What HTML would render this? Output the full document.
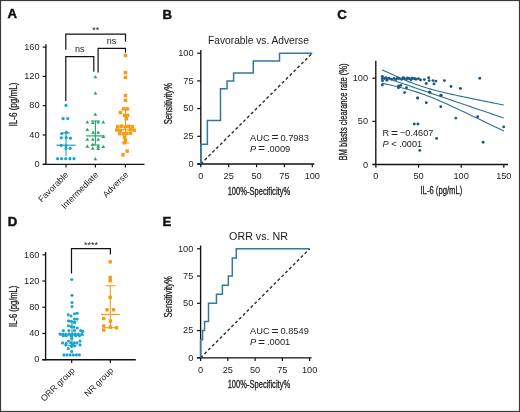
<!DOCTYPE html>
<html><head><meta charset="utf-8"><title>Figure</title>
<style>
html,body{margin:0;padding:0;background:#fff;}
body{width:520px;height:412px;overflow:hidden;}
svg{display:block;font-family:"Liberation Sans", sans-serif;filter:blur(0.3px);}
</style></head>
<body>
<svg width="520" height="412" viewBox="0 0 520 412">
<rect x="0" y="0" width="520" height="412" fill="#fff"/>
<text x="7.5" y="18.0" font-size="13.2" text-anchor="start" font-weight="bold" fill="#111" stroke="#111" stroke-width="0.45" style="">A</text>
<text x="162.4" y="19.4" font-size="13.2" text-anchor="start" font-weight="bold" fill="#111" stroke="#111" stroke-width="0.45" style="">B</text>
<text x="337.2" y="18.9" font-size="13.2" text-anchor="start" font-weight="bold" fill="#111" stroke="#111" stroke-width="0.45" style="">C</text>
<text x="7.7" y="226.2" font-size="13.2" text-anchor="start" font-weight="bold" fill="#111" stroke="#111" stroke-width="0.45" style="">D</text>
<text x="162.6" y="226.0" font-size="13.2" text-anchor="start" font-weight="bold" fill="#111" stroke="#111" stroke-width="0.45" style="">E</text>
<line x1="45.9" y1="44.30000000000001" x2="45.9" y2="164.9" stroke="#111111" stroke-width="1.35" />
<line x1="42.699999999999996" y1="164.3" x2="144.5" y2="164.3" stroke="#111111" stroke-width="1.35" />
<line x1="42.699999999999996" y1="164.3" x2="45.9" y2="164.3" stroke="#111111" stroke-width="1.2" />
<text x="39.6" y="167.0" font-size="9.2" text-anchor="end" font-weight="normal" fill="#222"  style="">0</text>
<line x1="42.699999999999996" y1="135.0" x2="45.9" y2="135.0" stroke="#111111" stroke-width="1.2" />
<text x="39.6" y="137.7" font-size="9.2" text-anchor="end" font-weight="normal" fill="#222"  style="">40</text>
<line x1="42.699999999999996" y1="105.70000000000002" x2="45.9" y2="105.70000000000002" stroke="#111111" stroke-width="1.2" />
<text x="39.6" y="108.40000000000002" font-size="9.2" text-anchor="end" font-weight="normal" fill="#222"  style="">80</text>
<line x1="42.699999999999996" y1="76.4" x2="45.9" y2="76.4" stroke="#111111" stroke-width="1.2" />
<text x="39.6" y="79.10000000000001" font-size="9.2" text-anchor="end" font-weight="normal" fill="#222"  style="">120</text>
<line x1="42.699999999999996" y1="47.10000000000001" x2="45.9" y2="47.10000000000001" stroke="#111111" stroke-width="1.2" />
<text x="39.6" y="49.80000000000001" font-size="9.2" text-anchor="end" font-weight="normal" fill="#222"  style="">160</text>
<line x1="66.0" y1="164.3" x2="66.0" y2="167.5" stroke="#111111" stroke-width="1.2" />
<line x1="95.4" y1="164.3" x2="95.4" y2="167.5" stroke="#111111" stroke-width="1.2" />
<line x1="125.4" y1="164.3" x2="125.4" y2="167.5" stroke="#111111" stroke-width="1.2" />
<text transform="translate(13.4,104.5) rotate(-90) scale(0.81,1)" x="0" y="3.60" font-size="10.0" text-anchor="middle" font-weight="normal" fill="#222" stroke="#222" stroke-width="0.3">IL-6 (pg/mL)</text>
<text transform="translate(69.0,175.4) rotate(-45)" x="0" y="0" font-size="8.7" text-anchor="end" fill="#222">Favorable</text>
<text transform="translate(98.8,175.4) rotate(-45)" x="0" y="0" font-size="8.7" text-anchor="end" fill="#222">Intermediate</text>
<text transform="translate(128.8,175.4) rotate(-45)" x="0" y="0" font-size="8.7" text-anchor="end" fill="#222">Adverse</text>
<path d="M65.8,49.8 V34.1 H125.5 V41.8" fill="none" stroke="#111111" stroke-width="1.2" />
<path d="M65.8,101 V56.7 H93.8 V71.7" fill="none" stroke="#111111" stroke-width="1.2" />
<path d="M98.1,72.4 V48.4 H125.5 V52.7" fill="none" stroke="#111111" stroke-width="1.2" />
<text x="95.8" y="32.7" font-size="9" text-anchor="middle" font-weight="normal" fill="#222"  style="">**</text>
<text x="79.7" y="52.4" font-size="9" text-anchor="middle" font-weight="normal" fill="#222"  style="">ns</text>
<text x="111.5" y="44.0" font-size="9" text-anchor="middle" font-weight="normal" fill="#222"  style="">ns</text>
<line x1="66" y1="133" x2="66" y2="156" stroke="#1ba3cc" stroke-width="1.1" />
<line x1="62" y1="133" x2="70" y2="133" stroke="#1ba3cc" stroke-width="1.1" />
<line x1="56.4" y1="145.2" x2="75.7" y2="145.2" stroke="#1ba3cc" stroke-width="1.2" />
<circle cx="66.0" cy="105.4" r="1.6" fill="#1ba3cc"/>
<circle cx="63.1" cy="118.6" r="1.6" fill="#1ba3cc"/>
<circle cx="67.8" cy="118.6" r="1.6" fill="#1ba3cc"/>
<circle cx="61.8" cy="133.6" r="1.6" fill="#1ba3cc"/>
<circle cx="66.3" cy="132.4" r="1.6" fill="#1ba3cc"/>
<circle cx="61.3" cy="137.8" r="1.6" fill="#1ba3cc"/>
<circle cx="66.2" cy="137.6" r="1.6" fill="#1ba3cc"/>
<circle cx="70.4" cy="138.2" r="1.6" fill="#1ba3cc"/>
<circle cx="61.3" cy="145.4" r="1.6" fill="#1ba3cc"/>
<circle cx="66.0" cy="145.8" r="1.6" fill="#1ba3cc"/>
<circle cx="66.0" cy="148.6" r="1.6" fill="#1ba3cc"/>
<circle cx="70.2" cy="148.3" r="1.6" fill="#1ba3cc"/>
<circle cx="57.6" cy="158.7" r="1.6" fill="#1ba3cc"/>
<circle cx="61.6" cy="158.7" r="1.6" fill="#1ba3cc"/>
<circle cx="65.7" cy="158.7" r="1.6" fill="#1ba3cc"/>
<circle cx="69.9" cy="158.7" r="1.6" fill="#1ba3cc"/>
<circle cx="74.0" cy="158.7" r="1.6" fill="#1ba3cc"/>
<line x1="95.4" y1="121" x2="95.4" y2="145" stroke="#2aa565" stroke-width="1.1" />
<line x1="90.9" y1="121" x2="99.8" y2="121" stroke="#2aa565" stroke-width="1.1" />
<line x1="90.9" y1="145" x2="99.8" y2="145" stroke="#2aa565" stroke-width="1.1" />
<line x1="86.1" y1="135.9" x2="104.7" y2="135.9" stroke="#2aa565" stroke-width="1.2" />
<path d="M93.50,78.25L95.40,74.95L97.30,78.25Z" fill="#2aa565"/>
<path d="M93.50,94.45L95.40,91.15L97.30,94.45Z" fill="#2aa565"/>
<path d="M93.40,115.75L95.30,112.45L97.20,115.75Z" fill="#2aa565"/>
<path d="M85.40,123.55L87.30,120.25L89.20,123.55Z" fill="#2aa565"/>
<path d="M90.90,124.05L92.80,120.75L94.70,124.05Z" fill="#2aa565"/>
<path d="M96.30,123.55L98.20,120.25L100.10,123.55Z" fill="#2aa565"/>
<path d="M101.40,123.55L103.30,120.25L105.20,123.55Z" fill="#2aa565"/>
<path d="M85.40,130.95L87.30,127.65L89.20,130.95Z" fill="#2aa565"/>
<path d="M91.20,133.75L93.10,130.45L95.00,133.75Z" fill="#2aa565"/>
<path d="M96.30,133.75L98.20,130.45L100.10,133.75Z" fill="#2aa565"/>
<path d="M101.40,138.05L103.30,134.75L105.20,138.05Z" fill="#2aa565"/>
<path d="M85.40,140.75L87.30,137.45L89.20,140.75Z" fill="#2aa565"/>
<path d="M90.90,140.75L92.80,137.45L94.70,140.75Z" fill="#2aa565"/>
<path d="M96.30,140.75L98.20,137.45L100.10,140.75Z" fill="#2aa565"/>
<path d="M90.90,145.85L92.80,142.55L94.70,145.85Z" fill="#2aa565"/>
<path d="M85.40,147.65L87.30,144.35L89.20,147.65Z" fill="#2aa565"/>
<path d="M96.30,147.65L98.20,144.35L100.10,147.65Z" fill="#2aa565"/>
<path d="M101.40,148.05L103.30,144.75L105.20,148.05Z" fill="#2aa565"/>
<path d="M90.90,149.85L92.80,146.55L94.70,149.85Z" fill="#2aa565"/>
<path d="M96.30,150.05L98.20,146.75L100.10,150.05Z" fill="#2aa565"/>
<path d="M93.40,160.35L95.30,157.05L97.20,160.35Z" fill="#2aa565"/>
<line x1="125.5" y1="109" x2="125.5" y2="143" stroke="#f39c16" stroke-width="1.1" />
<line x1="121.5" y1="109" x2="129.5" y2="109" stroke="#f39c16" stroke-width="1.1" />
<line x1="121.5" y1="143" x2="129.5" y2="143" stroke="#f39c16" stroke-width="1.1" />
<line x1="115.5" y1="129.8" x2="135.5" y2="129.8" stroke="#f39c16" stroke-width="1.2" />
<rect x="123.75" y="53.75" width="3.5" height="3.5" fill="#f39c16"/>
<rect x="123.75" y="70.85" width="3.5" height="3.5" fill="#f39c16"/>
<rect x="123.75" y="75.55" width="3.5" height="3.5" fill="#f39c16"/>
<rect x="123.75" y="93.85" width="3.5" height="3.5" fill="#f39c16"/>
<rect x="123.75" y="98.55" width="3.5" height="3.5" fill="#f39c16"/>
<rect x="121.85" y="107.15" width="3.5" height="3.5" fill="#f39c16"/>
<rect x="125.45" y="107.15" width="3.5" height="3.5" fill="#f39c16"/>
<rect x="118.65" y="110.75" width="3.5" height="3.5" fill="#f39c16"/>
<rect x="122.85" y="113.65" width="3.5" height="3.5" fill="#f39c16"/>
<rect x="125.85" y="113.65" width="3.5" height="3.5" fill="#f39c16"/>
<rect x="124.55" y="116.85" width="3.5" height="3.5" fill="#f39c16"/>
<rect x="116.05" y="124.85" width="3.5" height="3.5" fill="#f39c16"/>
<rect x="119.75" y="124.45" width="3.5" height="3.5" fill="#f39c16"/>
<rect x="123.45" y="125.05" width="3.5" height="3.5" fill="#f39c16"/>
<rect x="127.05" y="124.55" width="3.5" height="3.5" fill="#f39c16"/>
<rect x="130.65" y="125.05" width="3.5" height="3.5" fill="#f39c16"/>
<rect x="115.05" y="128.25" width="3.5" height="3.5" fill="#f39c16"/>
<rect x="118.45" y="128.65" width="3.5" height="3.5" fill="#f39c16"/>
<rect x="128.85" y="128.05" width="3.5" height="3.5" fill="#f39c16"/>
<rect x="132.45" y="128.45" width="3.5" height="3.5" fill="#f39c16"/>
<rect x="117.85" y="131.85" width="3.5" height="3.5" fill="#f39c16"/>
<rect x="121.45" y="132.05" width="3.5" height="3.5" fill="#f39c16"/>
<rect x="125.05" y="131.65" width="3.5" height="3.5" fill="#f39c16"/>
<rect x="128.65" y="131.45" width="3.5" height="3.5" fill="#f39c16"/>
<rect x="122.75" y="135.45" width="3.5" height="3.5" fill="#f39c16"/>
<rect x="123.75" y="138.45" width="3.5" height="3.5" fill="#f39c16"/>
<rect x="122.75" y="141.05" width="3.5" height="3.5" fill="#f39c16"/>
<rect x="125.45" y="149.35" width="3.5" height="3.5" fill="#f39c16"/>
<rect x="121.25" y="153.05" width="3.5" height="3.5" fill="#f39c16"/>
<line x1="200.8" y1="49.900000000000006" x2="200.8" y2="164.6" stroke="#111111" stroke-width="1.35" />
<line x1="197.20000000000002" y1="164.0" x2="314.3" y2="164.0" stroke="#111111" stroke-width="1.35" />
<line x1="197.20000000000002" y1="164.0" x2="200.8" y2="164.0" stroke="#111111" stroke-width="1.2" />
<text x="193.5" y="166.8" font-size="9.2" text-anchor="end" font-weight="normal" fill="#222"  style="">0</text>
<line x1="200.8" y1="164.0" x2="200.8" y2="167.2" stroke="#111111" stroke-width="1.2" />
<text x="200.8" y="179.2" font-size="9.2" text-anchor="middle" font-weight="normal" fill="#222"  style="">0</text>
<line x1="197.20000000000002" y1="136.3" x2="200.8" y2="136.3" stroke="#111111" stroke-width="1.2" />
<text x="193.5" y="139.10000000000002" font-size="9.2" text-anchor="end" font-weight="normal" fill="#222"  style="">25</text>
<line x1="228.675" y1="164.0" x2="228.675" y2="167.2" stroke="#111111" stroke-width="1.2" />
<text x="228.675" y="179.2" font-size="9.2" text-anchor="middle" font-weight="normal" fill="#222"  style="">25</text>
<line x1="197.20000000000002" y1="108.6" x2="200.8" y2="108.6" stroke="#111111" stroke-width="1.2" />
<text x="193.5" y="111.39999999999999" font-size="9.2" text-anchor="end" font-weight="normal" fill="#222"  style="">50</text>
<line x1="256.55" y1="164.0" x2="256.55" y2="167.2" stroke="#111111" stroke-width="1.2" />
<text x="256.55" y="179.2" font-size="9.2" text-anchor="middle" font-weight="normal" fill="#222"  style="">50</text>
<line x1="197.20000000000002" y1="80.9" x2="200.8" y2="80.9" stroke="#111111" stroke-width="1.2" />
<text x="193.5" y="83.7" font-size="9.2" text-anchor="end" font-weight="normal" fill="#222"  style="">75</text>
<line x1="284.425" y1="164.0" x2="284.425" y2="167.2" stroke="#111111" stroke-width="1.2" />
<text x="284.425" y="179.2" font-size="9.2" text-anchor="middle" font-weight="normal" fill="#222"  style="">75</text>
<line x1="197.20000000000002" y1="53.2" x2="200.8" y2="53.2" stroke="#111111" stroke-width="1.2" />
<text x="193.5" y="56.0" font-size="9.2" text-anchor="end" font-weight="normal" fill="#222"  style="">100</text>
<line x1="312.3" y1="164.0" x2="312.3" y2="167.2" stroke="#111111" stroke-width="1.2" />
<text x="312.3" y="179.2" font-size="9.2" text-anchor="middle" font-weight="normal" fill="#222"  style="">100</text>
<line x1="200.8" y1="164.0" x2="312.3" y2="53.2" stroke="#2a2a2a" stroke-width="1.4" stroke-dasharray="3,2.45"/>
<path d="M200.80,164.00 L200.80,144.21 L207.36,144.21 L207.36,120.47 L220.48,120.47 L220.48,88.81 L227.04,88.81 L227.04,80.90 L233.59,80.90 L233.59,72.99 L253.27,72.99 L253.27,61.11 L279.51,61.11 L279.51,53.20 L312.30,53.20" fill="none" stroke="#327a9e" stroke-width="1.5" stroke-linejoin="miter"/>
<text x="258.5" y="43.6" font-size="10.2" text-anchor="middle" font-weight="normal" fill="#1a1a1a"  style="">Favorable vs. Adverse</text>
<text x="250.0" y="140.7" font-size="9.3" text-anchor="start" font-weight="normal" fill="#222"  style="">AUC <tspan font-size="12" dy="0.4">=</tspan><tspan dy="-0.4"> </tspan>0.7983</text>
<text x="250.0" y="151.6" font-size="9.3" text-anchor="start" font-weight="normal" fill="#222"  style=""><tspan font-style="italic">P</tspan> <tspan font-size="12" dy="0.4">=</tspan><tspan dy="-0.4"> </tspan>.0009</text>
<text transform="translate(258.9,190.9) rotate(0) scale(0.755,1)" x="0" y="3.60" font-size="10.0" text-anchor="middle" font-weight="normal" fill="#222" stroke="#222" stroke-width="0.3">100%-Specificity%</text>
<text transform="translate(168.8,103.6) rotate(-90) scale(0.77,1)" x="0" y="3.60" font-size="10.0" text-anchor="middle" font-weight="normal" fill="#222" stroke="#222" stroke-width="0.3">Sensitivity%</text>
<line x1="200.6" y1="245.5" x2="200.6" y2="358.40000000000003" stroke="#111111" stroke-width="1.35" />
<line x1="197.0" y1="357.8" x2="311.6" y2="357.8" stroke="#111111" stroke-width="1.35" />
<line x1="197.0" y1="357.8" x2="200.6" y2="357.8" stroke="#111111" stroke-width="1.2" />
<text x="193.29999999999998" y="360.6" font-size="9.2" text-anchor="end" font-weight="normal" fill="#222"  style="">0</text>
<line x1="200.6" y1="357.8" x2="200.6" y2="361.0" stroke="#111111" stroke-width="1.2" />
<text x="200.6" y="372.8" font-size="9.2" text-anchor="middle" font-weight="normal" fill="#222"  style="">0</text>
<line x1="197.0" y1="330.55" x2="200.6" y2="330.55" stroke="#111111" stroke-width="1.2" />
<text x="193.29999999999998" y="333.35" font-size="9.2" text-anchor="end" font-weight="normal" fill="#222"  style="">25</text>
<line x1="227.85" y1="357.8" x2="227.85" y2="361.0" stroke="#111111" stroke-width="1.2" />
<text x="227.85" y="372.8" font-size="9.2" text-anchor="middle" font-weight="normal" fill="#222"  style="">25</text>
<line x1="197.0" y1="303.3" x2="200.6" y2="303.3" stroke="#111111" stroke-width="1.2" />
<text x="193.29999999999998" y="306.1" font-size="9.2" text-anchor="end" font-weight="normal" fill="#222"  style="">50</text>
<line x1="255.10000000000002" y1="357.8" x2="255.10000000000002" y2="361.0" stroke="#111111" stroke-width="1.2" />
<text x="255.10000000000002" y="372.8" font-size="9.2" text-anchor="middle" font-weight="normal" fill="#222"  style="">50</text>
<line x1="197.0" y1="276.05" x2="200.6" y2="276.05" stroke="#111111" stroke-width="1.2" />
<text x="193.29999999999998" y="278.85" font-size="9.2" text-anchor="end" font-weight="normal" fill="#222"  style="">75</text>
<line x1="282.35" y1="357.8" x2="282.35" y2="361.0" stroke="#111111" stroke-width="1.2" />
<text x="282.35" y="372.8" font-size="9.2" text-anchor="middle" font-weight="normal" fill="#222"  style="">75</text>
<line x1="197.0" y1="248.8" x2="200.6" y2="248.8" stroke="#111111" stroke-width="1.2" />
<text x="193.29999999999998" y="251.60000000000002" font-size="9.2" text-anchor="end" font-weight="normal" fill="#222"  style="">100</text>
<line x1="309.6" y1="357.8" x2="309.6" y2="361.0" stroke="#111111" stroke-width="1.2" />
<text x="309.6" y="372.8" font-size="9.2" text-anchor="middle" font-weight="normal" fill="#222"  style="">100</text>
<line x1="200.6" y1="357.8" x2="309.6" y2="248.8" stroke="#2a2a2a" stroke-width="1.4" stroke-dasharray="3,2.45"/>
<path d="M200.60,357.80 L200.60,339.63 L202.58,339.63 L202.58,330.55 L204.57,330.55 L204.57,321.47 L208.52,321.47 L208.52,303.30 L216.46,303.30 L216.46,294.22 L222.40,294.22 L222.40,285.13 L228.34,285.13 L228.34,276.05 L232.31,276.05 L232.31,257.88 L236.28,257.88 L236.28,248.80 L309.60,248.80" fill="none" stroke="#327a9e" stroke-width="1.5" stroke-linejoin="miter"/>
<text x="258.5" y="240.2" font-size="10.7" text-anchor="middle" font-weight="normal" fill="#1a1a1a"  style="">ORR vs. NR</text>
<text x="250.0" y="334.2" font-size="9.3" text-anchor="start" font-weight="normal" fill="#222"  style="">AUC <tspan font-size="12" dy="0.4">=</tspan><tspan dy="-0.4"> </tspan>0.8549</text>
<text x="250.0" y="345.09999999999997" font-size="9.3" text-anchor="start" font-weight="normal" fill="#222"  style=""><tspan font-style="italic">P</tspan> <tspan font-size="12" dy="0.4">=</tspan><tspan dy="-0.4"> </tspan>.0001</text>
<text transform="translate(258.9,384.79999999999995) rotate(0) scale(0.755,1)" x="0" y="3.60" font-size="10.0" text-anchor="middle" font-weight="normal" fill="#222" stroke="#222" stroke-width="0.3">100%-Specificity%</text>
<text transform="translate(168.8,296.8) rotate(-90) scale(0.77,1)" x="0" y="3.60" font-size="10.0" text-anchor="middle" font-weight="normal" fill="#222" stroke="#222" stroke-width="0.3">Sensitivity%</text>
<line x1="375.8" y1="60.8" x2="375.8" y2="165.1" stroke="#111111" stroke-width="1.35" />
<line x1="372.4" y1="164.5" x2="508.0" y2="164.5" stroke="#111111" stroke-width="1.35" />
<line x1="372.4" y1="164.5" x2="375.8" y2="164.5" stroke="#111111" stroke-width="1.2" />
<text x="368.0" y="167.5" font-size="9.2" text-anchor="end" font-weight="normal" fill="#222"  style="">0</text>
<line x1="372.4" y1="121.375" x2="375.8" y2="121.375" stroke="#111111" stroke-width="1.2" />
<text x="368.0" y="124.375" font-size="9.2" text-anchor="end" font-weight="normal" fill="#222"  style="">50</text>
<line x1="372.4" y1="78.25" x2="375.8" y2="78.25" stroke="#111111" stroke-width="1.2" />
<text x="368.0" y="81.25" font-size="9.2" text-anchor="end" font-weight="normal" fill="#222"  style="">100</text>
<line x1="375.9" y1="164.5" x2="375.9" y2="167.7" stroke="#111111" stroke-width="1.2" />
<text x="375.9" y="179.2" font-size="9.2" text-anchor="middle" font-weight="normal" fill="#222"  style="">0</text>
<line x1="418.53499999999997" y1="164.5" x2="418.53499999999997" y2="167.7" stroke="#111111" stroke-width="1.2" />
<text x="418.53499999999997" y="179.2" font-size="9.2" text-anchor="middle" font-weight="normal" fill="#222"  style="">50</text>
<line x1="461.16999999999996" y1="164.5" x2="461.16999999999996" y2="167.7" stroke="#111111" stroke-width="1.2" />
<text x="461.16999999999996" y="179.2" font-size="9.2" text-anchor="middle" font-weight="normal" fill="#222"  style="">100</text>
<line x1="503.80499999999995" y1="164.5" x2="503.80499999999995" y2="167.7" stroke="#111111" stroke-width="1.2" />
<text x="503.80499999999995" y="179.2" font-size="9.2" text-anchor="middle" font-weight="normal" fill="#222"  style="">150</text>
<text transform="translate(343.8,112.0) rotate(-90) scale(0.755,1)" x="0" y="3.60" font-size="10.0" text-anchor="middle" font-weight="normal" fill="#222" stroke="#222" stroke-width="0.3">BM blasts clearance rate (%)</text>
<text transform="translate(441.4,190.4) rotate(0) scale(0.77,1)" x="0" y="3.60" font-size="10.0" text-anchor="middle" font-weight="normal" fill="#222" stroke="#222" stroke-width="0.3">IL-6 (pg/mL)</text>
<text x="382.6" y="136.1" font-size="9.2" text-anchor="start" font-weight="normal" fill="#222"  style="">R <tspan font-size="12" dy="0.4">=</tspan><tspan dy="-0.4"> </tspan>−0.4607</text>
<text x="382.6" y="147.0" font-size="9.2" text-anchor="start" font-weight="normal" fill="#222"  style=""><tspan font-style="italic">P</tspan> &lt; .0001</text>
<path d="M382.00,76.50 L385.05,77.54 L388.09,78.58 L391.13,79.62 L394.18,80.65 L397.23,81.69 L400.27,82.73 L403.31,83.77 L406.36,84.81 L409.40,85.85 L412.45,86.88 L415.50,87.92 L418.54,88.96 L421.58,90.00 L424.63,91.04 L427.68,92.08 L430.72,93.11 L433.76,94.15 L436.81,95.19 L439.86,96.23 L442.90,97.27 L445.94,98.31 L448.99,99.34 L452.03,100.38 L455.08,101.42 L458.12,102.46 L461.17,103.50 L464.22,104.54 L467.26,105.57 L470.31,106.61 L473.35,107.65 L476.39,108.69 L479.44,109.73 L482.49,110.77 L485.53,111.80 L488.57,112.84 L491.62,113.88 L494.67,114.92 L497.71,115.96 L500.75,117.00 L503.80,118.03" fill="none" stroke="#2e6f8f" stroke-width="1.1" />
<path d="M382.00,69.77 L385.05,71.18 L388.09,72.58 L391.13,73.98 L394.18,75.35 L397.23,76.71 L400.27,78.05 L403.31,79.35 L406.36,80.63 L409.40,81.87 L412.45,83.07 L415.50,84.21 L418.54,85.31 L421.58,86.34 L424.63,87.33 L427.68,88.25 L430.72,89.13 L433.76,89.97 L436.81,90.77 L439.86,91.53 L442.90,92.27 L445.94,92.99 L448.99,93.69 L452.03,94.38 L455.08,95.05 L458.12,95.71 L461.17,96.36 L464.22,97.01 L467.26,97.64 L470.31,98.28 L473.35,98.90 L476.39,99.53 L479.44,100.15 L482.49,100.77 L485.53,101.38 L488.57,101.99 L491.62,102.60 L494.67,103.21 L497.71,103.82 L500.75,104.42 L503.80,105.03" fill="none" stroke="#2e6f8f" stroke-width="1.1" />
<path d="M382.00,83.23 L385.05,83.90 L388.09,84.57 L391.13,85.25 L394.18,85.95 L397.23,86.67 L400.27,87.41 L403.31,88.18 L406.36,88.98 L409.40,89.82 L412.45,90.70 L415.50,91.63 L418.54,92.61 L421.58,93.65 L424.63,94.75 L427.68,95.90 L430.72,97.09 L433.76,98.34 L436.81,99.61 L439.86,100.92 L442.90,102.26 L445.94,103.62 L448.99,105.00 L452.03,106.39 L455.08,107.79 L458.12,109.21 L461.17,110.63 L464.22,112.07 L467.26,113.50 L470.31,114.95 L473.35,116.40 L476.39,117.85 L479.44,119.30 L482.49,120.76 L485.53,122.23 L488.57,123.69 L491.62,125.16 L494.67,126.63 L497.71,128.10 L500.75,129.57 L503.80,131.04" fill="none" stroke="#2e6f8f" stroke-width="1.1" />
<circle cx="382.3" cy="76.4" r="1.45" fill="#1a5783"/>
<circle cx="382.3" cy="78.6" r="1.45" fill="#1a5783"/>
<circle cx="382.5" cy="80.8" r="1.45" fill="#1a5783"/>
<circle cx="382.3" cy="85.0" r="1.45" fill="#1a5783"/>
<circle cx="386.9" cy="80.2" r="1.45" fill="#1a5783"/>
<circle cx="389.0" cy="78.2" r="1.45" fill="#1a5783"/>
<circle cx="391.5" cy="79.2" r="1.45" fill="#1a5783"/>
<circle cx="394.0" cy="78.4" r="1.45" fill="#1a5783"/>
<circle cx="396.0" cy="79.5" r="1.45" fill="#1a5783"/>
<circle cx="399.0" cy="78.6" r="1.45" fill="#1a5783"/>
<circle cx="401.5" cy="79.4" r="1.45" fill="#1a5783"/>
<circle cx="404.0" cy="78.2" r="1.45" fill="#1a5783"/>
<circle cx="406.5" cy="79.0" r="1.45" fill="#1a5783"/>
<circle cx="409.0" cy="78.5" r="1.45" fill="#1a5783"/>
<circle cx="411.0" cy="79.8" r="1.45" fill="#1a5783"/>
<circle cx="413.5" cy="78.4" r="1.45" fill="#1a5783"/>
<circle cx="416.0" cy="79.3" r="1.45" fill="#1a5783"/>
<circle cx="418.5" cy="78.6" r="1.45" fill="#1a5783"/>
<circle cx="420.5" cy="80.0" r="1.45" fill="#1a5783"/>
<circle cx="424.3" cy="79.6" r="1.45" fill="#1a5783"/>
<circle cx="428.7" cy="77.7" r="1.45" fill="#1a5783"/>
<circle cx="429.1" cy="80.6" r="1.45" fill="#1a5783"/>
<circle cx="433.0" cy="80.6" r="1.45" fill="#1a5783"/>
<circle cx="435.9" cy="81.1" r="1.45" fill="#1a5783"/>
<circle cx="426.3" cy="83.5" r="1.45" fill="#1a5783"/>
<circle cx="434.0" cy="83.9" r="1.45" fill="#1a5783"/>
<circle cx="444.4" cy="80.6" r="1.45" fill="#1a5783"/>
<circle cx="398.8" cy="85.9" r="1.45" fill="#1a5783"/>
<circle cx="400.8" cy="85.4" r="1.45" fill="#1a5783"/>
<circle cx="398.4" cy="87.8" r="1.45" fill="#1a5783"/>
<circle cx="406.5" cy="87.8" r="1.45" fill="#1a5783"/>
<circle cx="404.6" cy="92.6" r="1.45" fill="#1a5783"/>
<circle cx="417.6" cy="97.9" r="1.45" fill="#1a5783"/>
<circle cx="429.6" cy="92.1" r="1.45" fill="#1a5783"/>
<circle cx="441.2" cy="95.5" r="1.45" fill="#1a5783"/>
<circle cx="451.0" cy="86.5" r="1.45" fill="#1a5783"/>
<circle cx="460.4" cy="88.5" r="1.45" fill="#1a5783"/>
<circle cx="479.8" cy="78.3" r="1.45" fill="#1a5783"/>
<circle cx="417.7" cy="98.1" r="1.45" fill="#1a5783"/>
<circle cx="426.3" cy="102.7" r="1.45" fill="#1a5783"/>
<circle cx="440.8" cy="106.7" r="1.45" fill="#1a5783"/>
<circle cx="455.8" cy="118.1" r="1.45" fill="#1a5783"/>
<circle cx="477.7" cy="116.7" r="1.45" fill="#1a5783"/>
<circle cx="503.7" cy="126.9" r="1.45" fill="#1a5783"/>
<circle cx="429.8" cy="92.3" r="1.45" fill="#1a5783"/>
<circle cx="440.8" cy="95.2" r="1.45" fill="#1a5783"/>
<circle cx="414.3" cy="124.0" r="1.45" fill="#1a5783"/>
<circle cx="417.9" cy="124.0" r="1.45" fill="#1a5783"/>
<circle cx="436.6" cy="138.4" r="1.45" fill="#1a5783"/>
<circle cx="483.1" cy="142.3" r="1.45" fill="#1a5783"/>
<circle cx="419.8" cy="150.4" r="1.45" fill="#1a5783"/>
<circle cx="384.6" cy="78.6" r="1.45" fill="#1a5783"/>
<circle cx="386.2" cy="77.8" r="1.45" fill="#1a5783"/>
<circle cx="397.5" cy="78.0" r="1.45" fill="#1a5783"/>
<circle cx="403.0" cy="77.6" r="1.45" fill="#1a5783"/>
<circle cx="407.5" cy="78.0" r="1.45" fill="#1a5783"/>
<circle cx="412.0" cy="78.2" r="1.45" fill="#1a5783"/>
<circle cx="415.0" cy="78.8" r="1.45" fill="#1a5783"/>
<line x1="45.6" y1="252.004" x2="45.6" y2="360.3" stroke="#111111" stroke-width="1.35" />
<line x1="42.4" y1="359.7" x2="135.8" y2="359.7" stroke="#111111" stroke-width="1.35" />
<line x1="42.4" y1="359.7" x2="45.6" y2="359.7" stroke="#111111" stroke-width="1.2" />
<text x="39.4" y="362.4" font-size="9.2" text-anchor="end" font-weight="normal" fill="#222"  style="">0</text>
<line x1="42.4" y1="333.476" x2="45.6" y2="333.476" stroke="#111111" stroke-width="1.2" />
<text x="39.4" y="336.176" font-size="9.2" text-anchor="end" font-weight="normal" fill="#222"  style="">40</text>
<line x1="42.4" y1="307.252" x2="45.6" y2="307.252" stroke="#111111" stroke-width="1.2" />
<text x="39.4" y="309.952" font-size="9.2" text-anchor="end" font-weight="normal" fill="#222"  style="">80</text>
<line x1="42.4" y1="281.028" x2="45.6" y2="281.028" stroke="#111111" stroke-width="1.2" />
<text x="39.4" y="283.728" font-size="9.2" text-anchor="end" font-weight="normal" fill="#222"  style="">120</text>
<line x1="42.4" y1="254.804" x2="45.6" y2="254.804" stroke="#111111" stroke-width="1.2" />
<text x="39.4" y="257.504" font-size="9.2" text-anchor="end" font-weight="normal" fill="#222"  style="">160</text>
<line x1="71.7" y1="359.7" x2="71.7" y2="362.9" stroke="#111111" stroke-width="1.2" />
<line x1="110.3" y1="359.7" x2="110.3" y2="362.9" stroke="#111111" stroke-width="1.2" />
<text transform="translate(13.5,306.3) rotate(-90) scale(0.76,1)" x="0" y="3.60" font-size="10.0" text-anchor="middle" font-weight="normal" fill="#222" stroke="#222" stroke-width="0.3">IL-6 (pg/mL)</text>
<text transform="translate(75.4,371.0) rotate(-45)" x="0" y="0" font-size="8.7" text-anchor="end" fill="#222">ORR group</text>
<text transform="translate(114.0,371.0) rotate(-45)" x="0" y="0" font-size="8.7" text-anchor="end" fill="#222">NR group</text>
<path d="M71.5,273.4 V248.7 H110.4 V254.6" fill="none" stroke="#111111" stroke-width="1.2" />
<text x="91.0" y="248.4" font-size="9" text-anchor="middle" font-weight="normal" fill="#222"  style="">****</text>
<line x1="72.0" y1="321.5" x2="72.0" y2="345.5" stroke="#1ba3cc" stroke-width="1.1" />
<line x1="67.5" y1="321.5" x2="76.5" y2="321.5" stroke="#1ba3cc" stroke-width="1.1" />
<line x1="67.5" y1="345.5" x2="76.5" y2="345.5" stroke="#1ba3cc" stroke-width="1.1" />
<line x1="59.5" y1="335.0" x2="84.2" y2="335.0" stroke="#1ba3cc" stroke-width="1.3" />
<circle cx="71.8" cy="279.5" r="1.55" fill="#1ba3cc"/>
<circle cx="72.0" cy="295.2" r="1.55" fill="#1ba3cc"/>
<circle cx="72.0" cy="302.5" r="1.55" fill="#1ba3cc"/>
<circle cx="72.0" cy="306.5" r="1.55" fill="#1ba3cc"/>
<circle cx="68.3" cy="314.8" r="1.55" fill="#1ba3cc"/>
<circle cx="71.1" cy="316.0" r="1.55" fill="#1ba3cc"/>
<circle cx="74.5" cy="313.8" r="1.55" fill="#1ba3cc"/>
<circle cx="77.2" cy="313.2" r="1.55" fill="#1ba3cc"/>
<circle cx="68.6" cy="320.9" r="1.55" fill="#1ba3cc"/>
<circle cx="71.4" cy="321.2" r="1.55" fill="#1ba3cc"/>
<circle cx="74.5" cy="319.1" r="1.55" fill="#1ba3cc"/>
<circle cx="77.2" cy="319.1" r="1.55" fill="#1ba3cc"/>
<circle cx="74.5" cy="322.8" r="1.55" fill="#1ba3cc"/>
<circle cx="68.3" cy="325.8" r="1.55" fill="#1ba3cc"/>
<circle cx="71.1" cy="326.5" r="1.55" fill="#1ba3cc"/>
<circle cx="73.8" cy="327.1" r="1.55" fill="#1ba3cc"/>
<circle cx="77.2" cy="328.0" r="1.55" fill="#1ba3cc"/>
<circle cx="63.4" cy="330.6" r="1.55" fill="#1ba3cc"/>
<circle cx="68.9" cy="330.6" r="1.55" fill="#1ba3cc"/>
<circle cx="74.5" cy="330.6" r="1.55" fill="#1ba3cc"/>
<circle cx="80.6" cy="330.6" r="1.55" fill="#1ba3cc"/>
<circle cx="82.8" cy="331.4" r="1.55" fill="#1ba3cc"/>
<circle cx="60.0" cy="334.0" r="1.55" fill="#1ba3cc"/>
<circle cx="62.8" cy="334.0" r="1.55" fill="#1ba3cc"/>
<circle cx="65.8" cy="334.0" r="1.55" fill="#1ba3cc"/>
<circle cx="69.2" cy="334.0" r="1.55" fill="#1ba3cc"/>
<circle cx="72.3" cy="334.0" r="1.55" fill="#1ba3cc"/>
<circle cx="75.1" cy="334.0" r="1.55" fill="#1ba3cc"/>
<circle cx="78.2" cy="334.0" r="1.55" fill="#1ba3cc"/>
<circle cx="81.8" cy="334.0" r="1.55" fill="#1ba3cc"/>
<circle cx="63.4" cy="335.8" r="1.55" fill="#1ba3cc"/>
<circle cx="66.2" cy="335.8" r="1.55" fill="#1ba3cc"/>
<circle cx="71.4" cy="336.2" r="1.55" fill="#1ba3cc"/>
<circle cx="75.7" cy="335.8" r="1.55" fill="#1ba3cc"/>
<circle cx="79.4" cy="335.8" r="1.55" fill="#1ba3cc"/>
<circle cx="71.7" cy="338.6" r="1.55" fill="#1ba3cc"/>
<circle cx="68.6" cy="341.0" r="1.55" fill="#1ba3cc"/>
<circle cx="80.0" cy="341.0" r="1.55" fill="#1ba3cc"/>
<circle cx="62.5" cy="342.9" r="1.55" fill="#1ba3cc"/>
<circle cx="66.2" cy="343.4" r="1.55" fill="#1ba3cc"/>
<circle cx="70.8" cy="342.9" r="1.55" fill="#1ba3cc"/>
<circle cx="74.2" cy="342.9" r="1.55" fill="#1ba3cc"/>
<circle cx="76.9" cy="342.9" r="1.55" fill="#1ba3cc"/>
<circle cx="65.8" cy="344.9" r="1.55" fill="#1ba3cc"/>
<circle cx="72.6" cy="344.8" r="1.55" fill="#1ba3cc"/>
<circle cx="80.0" cy="344.9" r="1.55" fill="#1ba3cc"/>
<circle cx="71.4" cy="346.5" r="1.55" fill="#1ba3cc"/>
<circle cx="74.5" cy="346.0" r="1.55" fill="#1ba3cc"/>
<circle cx="68.3" cy="348.6" r="1.55" fill="#1ba3cc"/>
<circle cx="71.7" cy="351.4" r="1.55" fill="#1ba3cc"/>
<circle cx="64.0" cy="354.9" r="1.55" fill="#1ba3cc"/>
<circle cx="67.1" cy="354.9" r="1.55" fill="#1ba3cc"/>
<circle cx="70.2" cy="354.9" r="1.55" fill="#1ba3cc"/>
<circle cx="73.3" cy="354.9" r="1.55" fill="#1ba3cc"/>
<circle cx="76.4" cy="354.9" r="1.55" fill="#1ba3cc"/>
<circle cx="79.3" cy="354.9" r="1.55" fill="#1ba3cc"/>
<line x1="110.3" y1="285.8" x2="110.3" y2="327.7" stroke="#f39c16" stroke-width="1.1" />
<line x1="105.6" y1="285.8" x2="115.4" y2="285.8" stroke="#f39c16" stroke-width="1.1" />
<line x1="103.5" y1="327.7" x2="117.0" y2="327.7" stroke="#f39c16" stroke-width="1.1" />
<line x1="101.0" y1="314.5" x2="119.8" y2="314.5" stroke="#f39c16" stroke-width="1.2" />
<rect x="108.50" y="260.10" width="3.4" height="3.4" fill="#f39c16"/>
<rect x="108.50" y="275.70" width="3.4" height="3.4" fill="#f39c16"/>
<rect x="108.50" y="279.00" width="3.4" height="3.4" fill="#f39c16"/>
<rect x="108.50" y="295.70" width="3.4" height="3.4" fill="#f39c16"/>
<rect x="105.30" y="308.10" width="3.4" height="3.4" fill="#f39c16"/>
<rect x="111.80" y="308.10" width="3.4" height="3.4" fill="#f39c16"/>
<rect x="102.00" y="316.80" width="3.4" height="3.4" fill="#f39c16"/>
<rect x="108.70" y="319.30" width="3.4" height="3.4" fill="#f39c16"/>
<rect x="102.00" y="324.30" width="3.4" height="3.4" fill="#f39c16"/>
<rect x="108.70" y="325.50" width="3.4" height="3.4" fill="#f39c16"/>
<rect x="114.90" y="326.00" width="3.4" height="3.4" fill="#f39c16"/>
<rect x="102.00" y="328.40" width="3.4" height="3.4" fill="#f39c16"/>
<rect x="0.5" y="0.5" width="519" height="411" fill="none" stroke="#3a3a3a" stroke-width="1.2"/>
</svg>
</body></html>
